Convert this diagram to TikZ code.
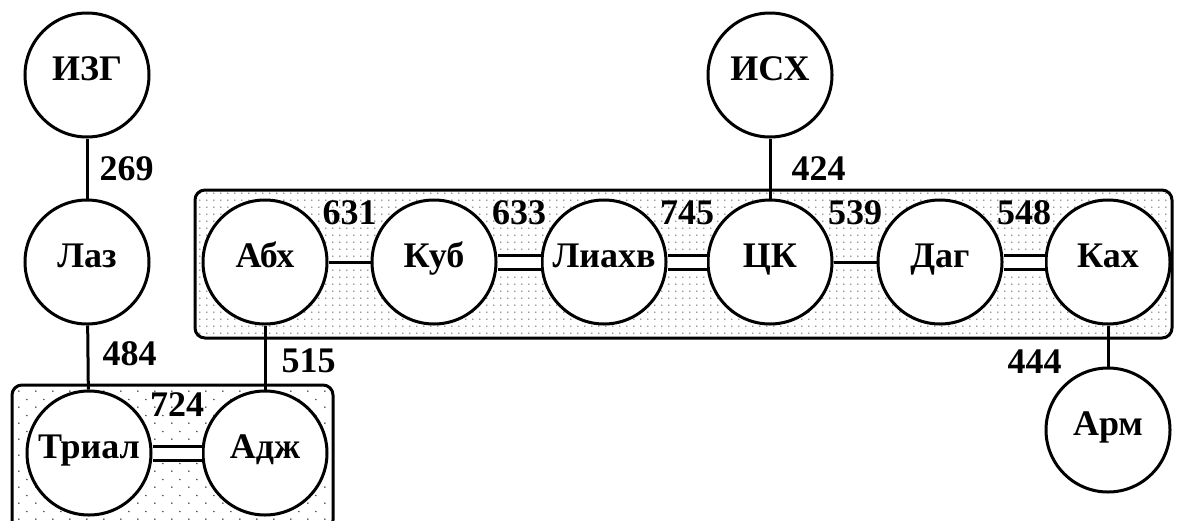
\documentclass[tikz,border=0pt]{standalone}
\usepackage{fontspec}
\setmainfont{Liberation Serif}
\usetikzlibrary{patterns.meta}

\tikzdeclarepattern{
	name=densedots,
	type=uncolored,
	bottom left={(0pt,0pt)},
	top right={(3.3pt,3.3pt)},
	tile size={(3.3pt,3.3pt)},
	code={\pgfpathcircle{\pgfqpoint{1pt}{1pt}}{0.38pt}\pgfusepath{fill}}
}
\tikzdeclarepattern{
	name=sparsedots,
	type=uncolored,
	bottom left={(0pt,0pt)},
	top right={(8.5pt,8pt)},
	tile size={(8.5pt,8pt)},
	code={\pgfpathcircle{\pgfqpoint{1pt}{1pt}}{0.42pt}\pgfpathcircle{\pgfqpoint{5.25pt}{5pt}}{0.42pt}\pgfusepath{fill}}
}

\tikzset{
	region/.style={draw, line width=1.5pt, rounded corners=5pt},
	party/.style={circle, draw, line width=1.5pt, fill=white, minimum size=62pt, inner sep=0pt, text height=1.45ex, text depth=0.25ex, font=\fontsize{18}{21}\selectfont\bfseries},
	votes/.style={font=\fontsize{18}{21}\selectfont\bfseries, inner sep=1pt},
	link/.style={draw=black, line width=1.5pt},
	tie/.style={draw=black, line width=1.5pt, double, double distance=5.5pt}
}

\begin{document}
\begin{tikzpicture}[x=0.5pt, y=-0.5pt]
	\clip (0,0) rectangle (1177,520);
	\useasboundingbox (0,0) rectangle (1177,520);
	
	% blocs
	\path[region, pattern={sparsedots}, pattern color=black!80] (12,385) rectangle (333,530);
	\path[region, pattern={densedots}, pattern color=black!80] (195,190) rectangle (1172,338);
	
	\begin{scope}[every node/.style={party}]
		\node (izg) at (87,75) {ИЗГ};
		\node (laz) at (87,262) {Лаз};
		\node (trial) at (89,453) {Триал};
		\node (adzh) at (265,453) {Адж};
		\node (abkh) at (265,262) {Абх};
		\node (kub) at (434,262) {Куб};
		\node (liakhv) at (604,262) {Лиахв};
		\node (ck) at (770,262) {ЦК};
		\node (iskh) at (770,75) {ИСХ};
		\node (dag) at (940,262) {Даг};
		\node (kakh) at (1108,262) {Ках};
		\node (arm) at (1108,430) {Арм};
	\end{scope}
	
	\begin{scope}[every edge/.style={link}]
		\path (izg) edge node [votes, right=4.5pt] {269} (laz);
		\path (laz) edge node [votes, right=5.5pt, yshift=2pt] {484} (trial);
		\path (abkh) edge node [votes, right=6.5pt, yshift=-1.5pt] {515} (adzh);
		\path (iskh) edge node [votes, right=9pt] {424} (ck);
		\path (kakh) edge node [votes, left=21.5pt, yshift=-8pt] {444} (arm);
		\path (abkh) edge node [votes, yshift=24.5pt] {631} (kub);
		\path (ck) edge node [votes, yshift=24.5pt] {539} (dag);
	\end{scope}
	
	\begin{scope}[every edge/.style={tie}]
		\path (trial) edge node [votes, yshift=24pt] {724} (adzh);
		\path (kub) edge node [votes, yshift=24.5pt] {633} (liakhv);
		\path (liakhv) edge node [votes, yshift=24.5pt] {745} (ck);
		\path (dag) edge node [votes, yshift=24.5pt] {548} (kakh);
	\end{scope}
\end{tikzpicture}
\end{document}
